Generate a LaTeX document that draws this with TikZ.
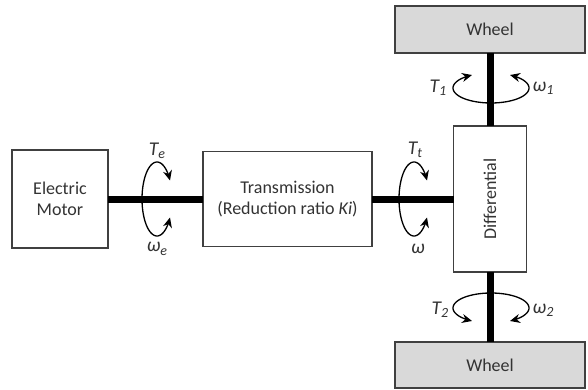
\documentclass[tikz,border=0pt]{standalone}
\usepackage{fontspec}
\setmainfont{Carlito}
\usetikzlibrary{arrows.meta}
\definecolor{boxline}{HTML}{404040}
\definecolor{labeltext}{HTML}{333333}
\definecolor{wheelgray}{HTML}{D9D9D9}
\newcommand{\subsym}[2]{#1\raisebox{-0.35ex}{\fontsize{14}{14}\selectfont #2}}
\begin{document}
\begin{tikzpicture}[x=1pt,y=-1pt,
  box/.style={draw=boxline, line width=1.4pt, fill=white, inner sep=0pt, outer sep=0pt,
    text=labeltext, font=\fontsize{18}{21}\selectfont, align=center},
  wheelbox/.style={box, fill=wheelgray},
  shaft/.style={line width=7pt, line cap=butt},
  spin/.style={line width=1.3pt, {Stealth[length=10pt,width=9pt]}-{Stealth[length=10pt,width=9pt]}},
  sym/.style={font=\fontsize{19.5}{22}\selectfont\itshape, text=labeltext, inner sep=0pt}]
\useasboundingbox (0,0) rectangle (588,390);

% blocks
\node[box, minimum width=96pt, minimum height=98pt] (motor) at (60,199) {Electric\\Motor};
\node[box, minimum width=169pt, minimum height=95pt] (trans) at (287.5,199) {Transmission\\(Reduction ratio \textit{Ki})};
\node[box, minimum width=73pt, minimum height=146pt] (diff) at (490,199) {};
\node[text=labeltext, font=\fontsize{18}{21}\selectfont, rotate=90] (difflabel) at (diff.center) {Differential};
\node[wheelbox, minimum width=190pt, minimum height=47pt] (wtop) at (490,29.5) {Wheel};
\node[wheelbox, minimum width=190pt, minimum height=46pt] (wbot) at (490,365) {Wheel};

% shafts
\draw[shaft] (motor.east) -- (trans.west);
\draw[shaft] (trans.east) -- (diff.west);
\draw[shaft] (wtop.south) -- (diff.north);
\draw[shaft] (diff.south) -- (wbot.north);

% rotation arrows around the shafts
\coordinate (spinE) at (157,199);
\coordinate (spinT) at (414,199);
\coordinate (spin1) at (491,88);
\coordinate (spin2) at (491,308);
\draw[spin] plot[domain=30:330, samples=60, variable=\t] ({157+15*cos(\t)}, {199-37*sin(\t)});
\draw[spin] plot[domain=30:330, samples=60, variable=\t] ({414+15*cos(\t)}, {199-37*sin(\t)});
\draw[spin] plot[domain=120:420, samples=60, variable=\t] ({491+38*cos(\t)}, {88-15*sin(\t)});
\draw[spin] plot[domain=-60:240, samples=60, variable=\t] ({491+38*cos(\t)}, {308-15*sin(\t)});

% torque and speed symbols
\node[sym] (te) at (157,151) {\subsym{T}{e}};
\node[sym] (we) at (157,249) {\subsym{ω}{e}};
\node[sym] (tt) at (415,150) {\subsym{T}{t}};
\node[sym] (w) at (418,249) {ω};
\node[sym] (t1) at (438,88) {\subsym{T}{1}};
\node[sym] (w1) at (543,88) {\subsym{ω}{1}};
\node[sym] (t2) at (440,310) {\subsym{T}{2}};
\node[sym] (w2) at (543,310) {\subsym{ω}{2}};
\end{tikzpicture}
\end{document}
